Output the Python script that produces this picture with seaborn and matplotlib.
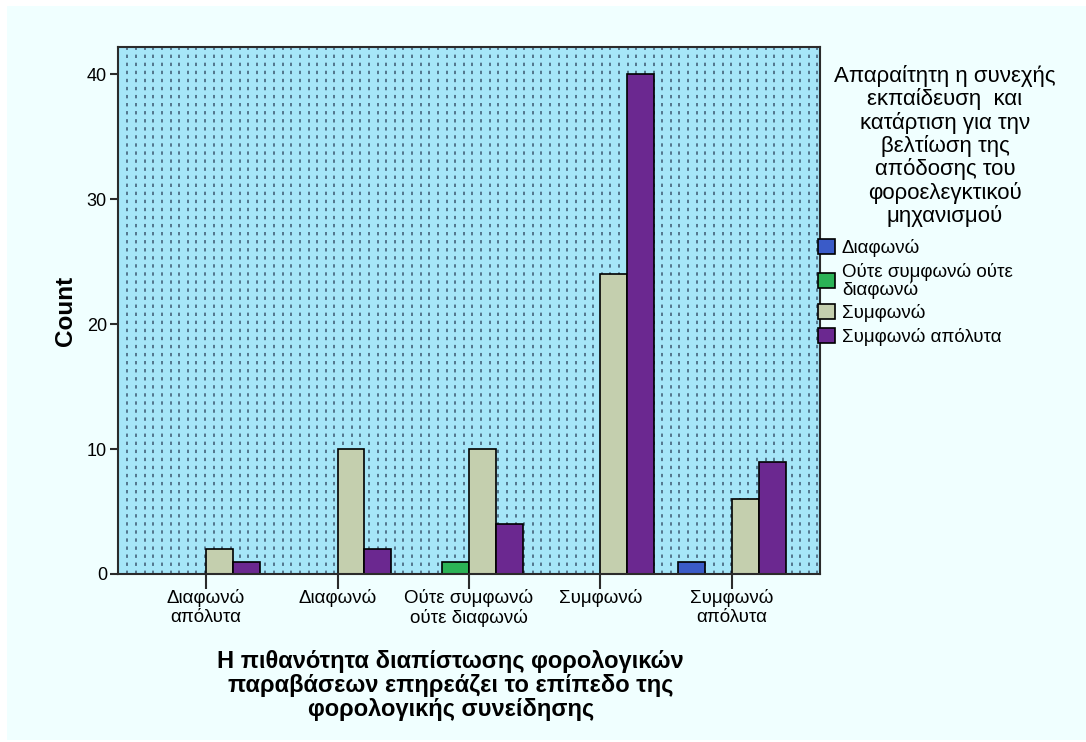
import numpy as np
import pandas as pd
import matplotlib
matplotlib.use("Agg")
import matplotlib.pyplot as plt
import seaborn as sns
from matplotlib.patches import Patch, Rectangle

# Categories on the x axis (answer to the x question)
categories = ["Διαφωνώ\nαπόλυτα", "Διαφωνώ", "Ούτε συμφωνώ\nούτε διαφωνώ",
              "Συμφωνώ", "Συμφωνώ\nαπόλυτα"]
# Hue levels (answer to the legend question)
series = ["Διαφωνώ", "Ούτε συμφωνώ ούτε\nδιαφωνώ", "Συμφωνώ", "Συμφωνώ απόλυτα"]
disagree = [0, 0, 0, 0, 1]
neutral = [0, 0, 1, 0, 0]
agree = [2, 10, 10, 24, 6]
strongly_agree = [1, 2, 4, 40, 9]
yticks = [0, 10, 20, 30, 40]

legend_title = ("Απαραίτητη η συνεχής\nεκπαίδευση  και\nκατάρτιση για την\n"
                "βελτίωση της\nαπόδοσης του\nφοροελεγκτικού\nμηχανισμού")
x_title = ("Η πιθανότητα διαπίστωσης φορολογικών\n"
           "παραβάσεων επηρεάζει το επίπεδο της\nφορολογικής συνείδησης")

colors = ["#3a5bc8", "#2bb356", "#c4cfae", "#6b2890"]

rows = []
for name, vals in zip(series, [disagree, neutral, agree, strongly_agree]):
    for cat, v in zip(categories, vals):
        if v > 0:
            rows.append({"cat": cat, "series": name, "count": v})
df = pd.DataFrame(rows)

sns.set_style("white")
plt.rcParams["font.family"] = ["Liberation Sans", "DejaVu Sans"]
plt.rcParams["text.color"] = "black"
plt.rcParams["axes.labelcolor"] = "black"
plt.rcParams["xtick.color"] = "black"
plt.rcParams["ytick.color"] = "black"

W, H = 1086, 742
fig = plt.figure(figsize=(W / 100, H / 100), dpi=100, facecolor="white")
fig.patches.append(Rectangle((7 / W, 2 / H), 1 - 7 / W, 1 - 8 / H,
                             transform=fig.transFigure, facecolor="#f0ffff",
                             edgecolor="none", zorder=-10))
ax = fig.add_axes([118 / W, 1 - 574 / H, (820 - 118) / W, (574 - 47) / H])
ax.set_facecolor("#a6e6f8")

# Dotted vertical fill pattern of the plot area
n_lines = 81
xs = (np.arange(n_lines) + 1.1) / (n_lines + 0.4)
ax.vlines(xs, 0, 1, transform=ax.transAxes, colors="#4f7189",
          linestyles=(0, (1.8, 2.5)), linewidth=1.35, zorder=0.5)

sns.barplot(data=df, x="cat", y="count", hue="series", order=categories,
            hue_order=series, palette=colors, width=0.82, dodge=True,
            edgecolor="black", linewidth=1.2, saturation=1, legend=False,
            ax=ax, zorder=2)

ax.set_xlim(-0.67, 4.67)
ax.set_ylim(0, 42.2)
ax.set_yticks(yticks)
ax.set_yticklabels([str(t) for t in yticks])

for s in ax.spines.values():
    s.set_visible(True)
    s.set_color("#2b2b2b")
    s.set_linewidth(1.5)
ax.tick_params(axis="y", length=6, width=1.5, color="#2b2b2b",
               labelsize=13, pad=2, left=True)
ax.tick_params(axis="x", length=11, width=1.5, color="#2b2b2b",
               labelsize=13.5, pad=0, bottom=True)
for lab in ax.get_xticklabels():
    lab.set_linespacing(1.12)

ax.set_ylabel("Count", fontsize=17.5, fontweight="bold")
ax.yaxis.set_label_coords(-0.058, 0.5)
ax.set_xlabel(x_title, fontsize=17, fontweight="bold", linespacing=1.07)
ax.xaxis.set_label_coords(0.474, -0.144)

fig.text(945 / W, 1 - 65 / H, legend_title, ha="center", va="top",
         fontsize=16, linespacing=1.08)

handles = [Patch(facecolor=c, edgecolor="black", linewidth=1.2) for c in colors]
ax.legend(handles, series, loc="upper left",
          bbox_to_anchor=(818 / W, 1 - 239 / H), bbox_transform=fig.transFigure,
          frameon=False, handlelength=0.9, handleheight=0.85, handletextpad=0.38,
          labelspacing=0.3, borderpad=0, borderaxespad=0, fontsize=13.5)
for t in ax.get_legend().get_texts():
    t.set_linespacing(1.0)

fig.savefig("out.png", dpi=100, facecolor=fig.get_facecolor())
